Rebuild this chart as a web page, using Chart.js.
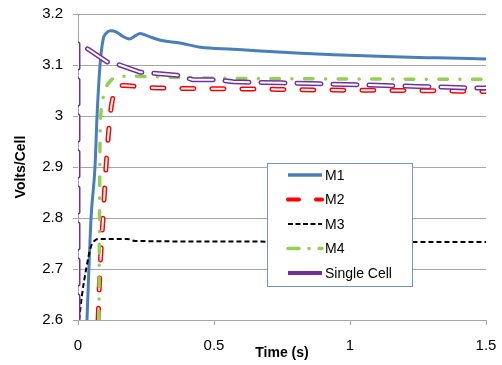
<!DOCTYPE html>
<html>
<head>
<meta charset="utf-8">
<script src="https://cdn.jsdelivr.net/npm/chart.js@4/dist/chart.umd.min.js"></script>
<style>
  html, body { margin: 0; padding: 0; background: #fff; }
</style>
</head>
<body>
<canvas id="chart" width="502" height="365"></canvas>
<script>
// values (time in s, volts per cell)
const seriesNames = ['M1', 'M2', 'M3', 'M4', 'Single Cell'];

const m1Time  = [0.033, 0.048, 0.0625, 0.07, 0.081, 0.092, 0.105, 0.12, 0.14, 0.165, 0.188, 0.21, 0.228, 0.26, 0.3, 0.375, 0.45, 0.57, 0.63, 0.82, 0.94, 1.16, 1.32, 1.5];
const m1Volts = [2.6, 2.8, 2.9, 3.0, 3.1, 3.149, 3.163, 3.167, 3.165, 3.156, 3.151, 3.157, 3.162, 3.156, 3.149, 3.143, 3.135, 3.131, 3.129, 3.123, 3.12, 3.116, 3.114, 3.112];

const m2Time  = [0.074, 0.081, 0.092, 0.103, 0.118, 0.13, 0.145, 0.17, 0.25, 0.4, 0.6, 0.9, 1.2, 1.5];
const m2Volts = [2.6, 2.7, 2.8, 2.9, 3.0, 3.04, 3.058, 3.06, 3.056, 3.054, 3.053, 3.051, 3.05, 3.048];

const m3Time  = [0.004, 0.015, 0.03, 0.047, 0.06, 0.08, 0.18, 0.21, 0.5, 1.0, 1.5];
const m3Volts = [2.6, 2.65, 2.7, 2.743, 2.755, 2.759, 2.759, 2.755, 2.754, 2.753, 2.753];

const m4Time  = [0.077, 0.079, 0.081, 0.085, 0.092, 0.105, 0.118, 0.145, 0.2, 0.4, 0.8, 1.5];
const m4Volts = [2.6, 2.8, 2.95, 3.01, 3.035, 3.058, 3.068, 3.078, 3.078, 3.075, 3.073, 3.072];

const scTime  = [0, 0, 0.026, 0.107, 0.143, 0.228, 0.272, 0.364, 0.423, 0.51, 0.57, 0.75, 1.04, 1.25, 1.45, 1.5];
const scVolts = [2.6, 3.143, 3.135, 3.106, 3.102, 3.086, 3.084, 3.08, 3.071, 3.071, 3.067, 3.065, 3.061, 3.058, 3.055, 3.055];

const xTicks = [0, 0.5, 1, 1.5];
const yTicks = [2.6, 2.7, 2.8, 2.9, 3, 3.1, 3.2];

function pts(t, v) {
  return t.map((x, i) => ({ x: x, y: v[i] }));
}

const FONT = '"Liberation Sans", Arial, sans-serif';
const GRID = '#a6a6a6';

// legend drawn as a boxed panel inside the plot
const boxLegend = {
  id: 'boxLegend',
  afterDraw(chart) {
    const ctx = chart.ctx;
    ctx.save();
    ctx.fillStyle = '#ffffff';
    ctx.fillRect(267.5, 163.5, 145, 123);
    ctx.strokeStyle = '#6f94c8';
    ctx.lineWidth = 1;
    ctx.strokeRect(267.5, 163.5, 145, 123);
    ctx.font = '14px ' + FONT;
    ctx.textBaseline = 'middle';
    let row = 0;
    chart.data.datasets.forEach(ds => {
      if (!ds.key) return;
      const y = 175 + row * 24.5;
      ctx.beginPath();
      ctx.strokeStyle = ds.key.color;
      ctx.lineWidth = ds.key.width;
      ctx.lineCap = ds.key.cap;
      ctx.setLineDash(ds.key.dash);
      ctx.moveTo(288, y);
      ctx.lineTo(322, y);
      ctx.stroke();
      ctx.setLineDash([]);
      ctx.fillStyle = '#000';
      ctx.fillText(ds.label, 325, y + 1);
      row++;
    });
    ctx.restore();
  }
};

const base = { showLine: true, pointRadius: 0, fill: false, borderJoinStyle: 'round' };

new Chart(document.getElementById('chart'), {
  type: 'scatter',
  data: {
    datasets: [
      Object.assign({}, base, {
        label: seriesNames[0], data: pts(m1Time, m1Volts), order: 10,
        borderColor: '#4a7ebb', borderWidth: 3, cubicInterpolationMode: 'monotone',
        key: { color: '#4a7ebb', width: 3.5, cap: 'butt', dash: [] }
      }),
      Object.assign({}, base, {
        label: seriesNames[1], data: pts(m2Time, m2Volts), order: 9,
        borderColor: '#ff0000', borderWidth: 5, borderDash: [12, 18], borderCapStyle: 'round',
        cubicInterpolationMode: 'monotone',
        key: { color: '#ff0000', width: 4, cap: 'round', dash: [11, 17] }
      }),
      Object.assign({}, base, {
        label: '', data: pts(m2Time, m2Volts), order: 8.5,
        borderColor: '#ffffff', borderWidth: 2, borderDash: [12, 18], borderCapStyle: 'round',
        cubicInterpolationMode: 'monotone'
      }),
      Object.assign({}, base, {
        label: seriesNames[2], data: pts(m3Time, m3Volts), order: 8,
        borderColor: '#000000', borderWidth: 2, borderDash: [5, 3],
        cubicInterpolationMode: 'monotone',
        key: { color: '#000000', width: 2, cap: 'butt', dash: [5, 2.5] }
      }),
      Object.assign({}, base, {
        label: seriesNames[3], data: pts(m4Time, m4Volts), order: 7,
        borderColor: '#92d050', borderWidth: 3.5, borderDash: [8.5, 12.5, 0.1, 12.5], borderCapStyle: 'round',
        cubicInterpolationMode: 'monotone',
        key: { color: '#92d050', width: 3.5, cap: 'round', dash: [11, 10, 0.1, 10] }
      }),
      Object.assign({}, base, {
        label: seriesNames[4], data: pts(scTime, scVolts), order: 6,
        borderColor: '#7030a0', borderWidth: 5, borderDash: [24, 12], borderCapStyle: 'round',
        key: { color: '#7030a0', width: 4, cap: 'butt', dash: [] }
      }),
      Object.assign({}, base, {
        label: '', data: pts(scTime, scVolts), order: 5.5,
        borderColor: '#ffffff', borderWidth: 2, borderDash: [24, 12], borderCapStyle: 'round'
      })
    ]
  },
  options: {
    responsive: false,
    animation: false,
    devicePixelRatio: 1,
    layout: { padding: { top: 14, right: 16, bottom: 0, left: 0 } },
    plugins: { legend: { display: false }, tooltip: { enabled: false } },
    scales: {
      x: {
        type: 'linear', min: 0, max: 1.5,
        afterBuildTicks: s => { s.ticks = xTicks.map(v => ({ value: v })); },
        afterFit: s => { s.height = 45; s.paddingLeft = 0; s.paddingRight = 0; },
        grid: { drawOnChartArea: false, color: GRID, tickLength: 5 },
        border: { color: GRID },
        ticks: {
          padding: 12, color: '#000', maxRotation: 0,
          font: { family: FONT, size: 15 },
          callback: v => String(+Number(v).toFixed(1))
        },
        title: {
          display: true, text: 'Time (s)', color: '#000',
          font: { family: FONT, size: 14, weight: 'bold' },
          padding: { top: 0, bottom: 3 }
        }
      },
      y: {
        type: 'linear', min: 2.6, max: 3.2,
        afterBuildTicks: s => { s.ticks = yTicks.map(v => ({ value: v })); },
        afterFit: s => { s.width = 78; s.paddingTop = 0; s.paddingBottom = 0; },
        grid: { color: GRID, tickLength: 5 },
        border: { color: GRID },
        ticks: {
          padding: 10, color: '#000',
          font: { family: FONT, size: 15 },
          callback: v => String(+Number(v).toFixed(1))
        },
        title: {
          display: true, text: 'Volts/Cell', color: '#000',
          font: { family: FONT, size: 14, weight: 'bold' },
          padding: { top: 13, bottom: 0 }
        }
      }
    }
  },
  plugins: [boxLegend]
});
</script>
</body>
</html>
